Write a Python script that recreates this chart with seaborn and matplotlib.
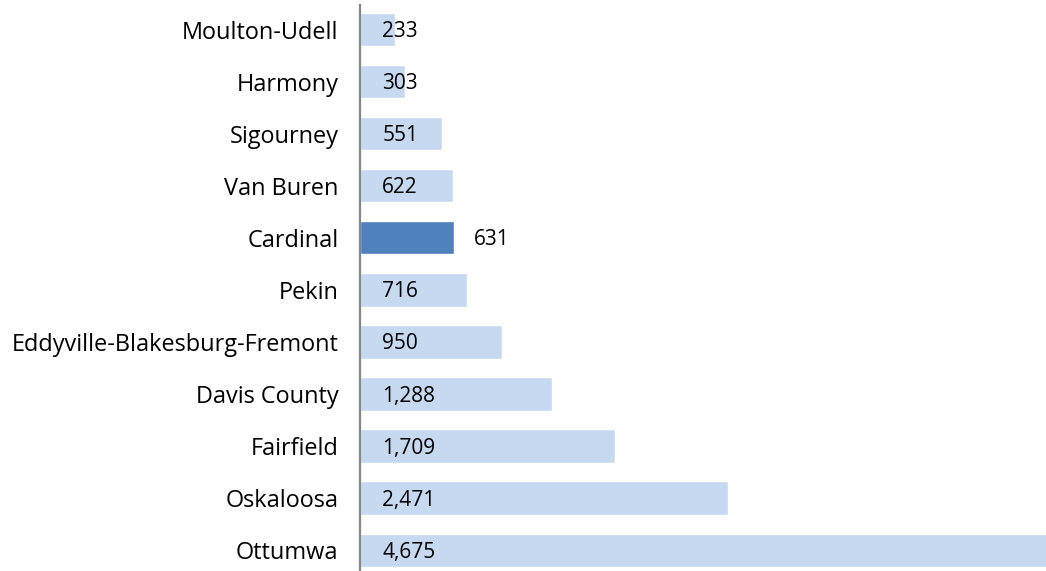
import matplotlib
matplotlib.use("Agg")
import matplotlib.pyplot as plt
import seaborn as sns
import pandas as pd

districts = [
    "Moulton-Udell", "Harmony", "Sigourney", "Van Buren", "Cardinal", "Pekin",
    "Eddyville-Blakesburg-Fremont", "Davis County", "Fairfield", "Oskaloosa", "Ottumwa",
]
enrollment = [233, 303, 551, 622, 631, 716, 950, 1288, 1709, 2471, 4675]
highlight = "Cardinal"

light_blue = "#C6D9F1"
dark_blue = "#4F81BD"

df = pd.DataFrame({"district": districts, "enrollment": enrollment})
palette = {d: (dark_blue if d == highlight else light_blue) for d in districts}

sns.set_style("white")
plt.rcParams["font.family"] = ["Open Sans", "DejaVu Sans"]

fig = plt.figure(figsize=(10.46, 5.71), dpi=100)
ax = fig.add_axes([360 / 1046, 0.0, 1 - 360 / 1046, 1.0])

sns.barplot(
    data=df, x="enrollment", y="district", hue="district", palette=palette,
    legend=False, orient="h", width=0.64, ax=ax, saturation=1,
)

ax.set_xlim(0, 686 / 0.149)
ax.set_ylim(10.40, -0.567)
ax.set_xlabel("")
ax.set_ylabel("")
ax.set_xticks([])
ax.tick_params(axis="y", length=0, pad=15.5, labelsize=16.9, labelcolor="black")

for s in ["top", "right", "bottom"]:
    ax.spines[s].set_visible(False)
ax.spines["left"].set_color("#868686")
ax.spines["left"].set_linewidth(1.6)
ax.spines["left"].set_bounds(10.40, -0.48)

# Cardinal label sits outside the bar end, the rest inside near the base
for i, (d, v) in enumerate(zip(districts, enrollment)):
    label = f"{v:,}"
    if d == highlight:
        ax.annotate(label, xy=(v, i), xytext=(14.5, -1.5), textcoords="offset points",
                    va="center", ha="left", fontsize=15, color="black")
    else:
        ax.annotate(label, xy=(0, i), xytext=(16, -1.5), textcoords="offset points",
                    va="center", ha="left", fontsize=15, color="black")

fig.savefig("out.png", dpi=100)
